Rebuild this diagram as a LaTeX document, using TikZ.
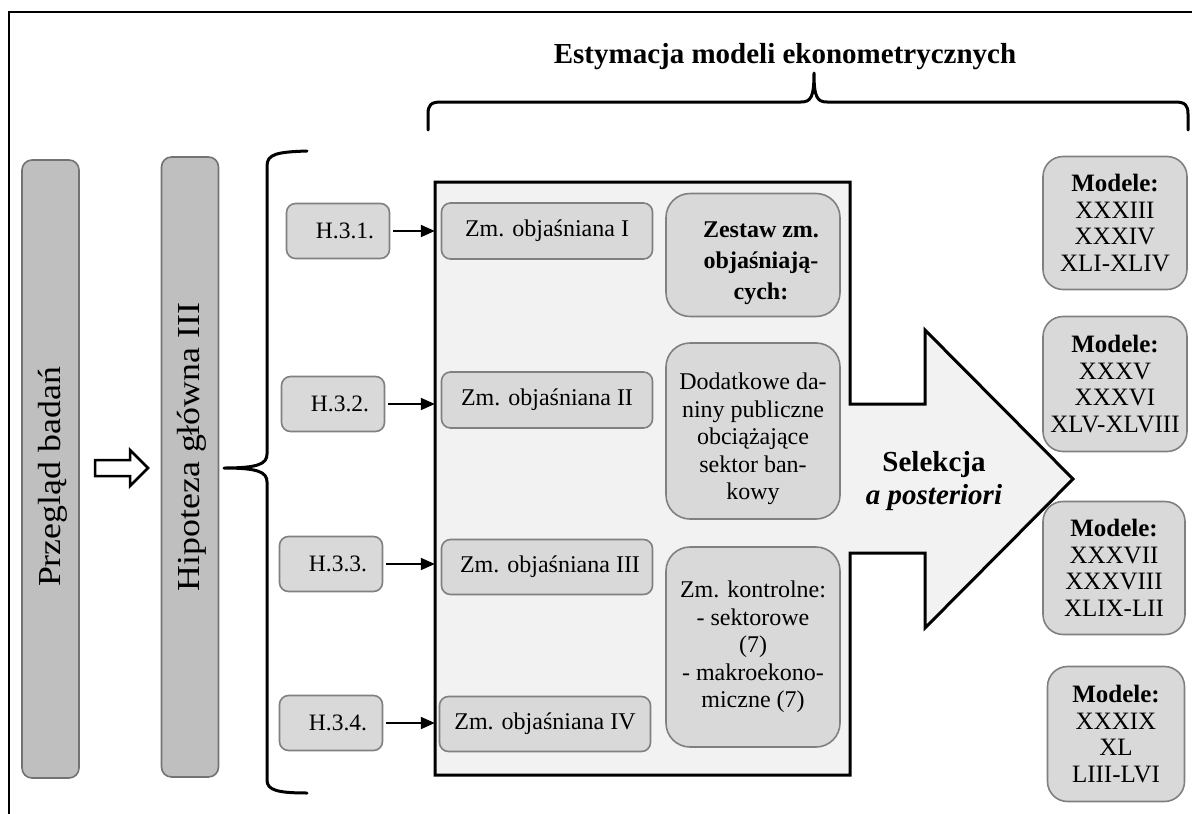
\documentclass[tikz,border=0pt]{standalone}
\usepackage{fontspec}
\setmainfont{Liberation Serif}
\usetikzlibrary{arrows.meta,calc}

\newcommand{\fs}[2]{\fontsize{#1}{#2}\selectfont}

\tikzset{
  bar/.style={draw=black!55, line width=1.6pt, fill=black!25, rounded corners=10pt,
              minimum width=57pt, inner sep=0pt},
  hbox/.style={draw=black!50, line width=1.6pt, fill=black!15, rounded corners=9pt,
               minimum width=103pt, minimum height=55pt, inner sep=0pt, font=\fs{23.5}{26}},
  zbox/.style={draw=black!50, line width=1.6pt, fill=black!15, rounded corners=9pt,
               minimum width=211pt, minimum height=56pt, inner sep=0pt, font=\fs{24}{26}},
  setbox/.style={draw=black!50, line width=1.6pt, fill=black!15, rounded corners=24pt,
                 minimum width=174pt, inner sep=0pt},
  settext/.style={align=center, inner sep=0pt},
  modelbox/.style={draw=black!50, line width=1.6pt, fill=black!15, rounded corners=20pt,
                   inner sep=0pt, align=center, font=\fs{25}{26.5}},
  bracket/.style={line width=3pt, line cap=round, line join=round},
  conn/.style={line width=2pt, -{Triangle[length=14pt,width=12pt]}, shorten <=3pt},
}

\begin{document}
\begin{tikzpicture}[x=1pt, y=-1pt]
\useasboundingbox (0,0) rectangle (1192,814);

% frame (left and top edges)
\draw[line width=2.5pt] (9,820) -- (9,12) -- (1200,12);

% title and top brace
\node (title) at (785,57) {\fs{29}{32}\bfseries Estymacja modeli ekonometrycznych};
\draw[bracket] (428,130) -- (428,114) .. controls (428,105) and (431,102) .. (441,102)
  -- (801,102) .. controls (811,102) and (814,97) .. (814,73)
  .. controls (814,97) and (817,102) .. (827,102)
  -- (1175,102) .. controls (1185,102) and (1188,105) .. (1188,114) -- (1188,130);

% left bars
\node[bar, minimum height=618pt] (przeglad) at (50.5,469) {};
\node[rotate=90] (przegladtxt) at (53,477) {\fs{32}{36}\scalebox{1.12}[1]{Przegląd badań}};
\node[bar, minimum height=620pt] (hipoteza) at (190,467) {};
\node[rotate=90] (hipotezatxt) at (192,447) {\fs{32}{36}\scalebox{1.12}[1]{Hipoteza główna III}};

% hollow arrow between bars
\draw[line width=2.5pt, fill=white, line join=miter]
  (95,460) -- (130,460) -- (130,450) -- (148,468) -- (130,486) -- (130,476) -- (95,476) -- cycle;

% brace after the main hypothesis
\draw[bracket] (307,151) .. controls (277,152) and (267,154) .. (267,166)
  -- (267,454) .. controls (267,464) and (258,468) .. (224,468)
  .. controls (258,468) and (267,472) .. (267,482)
  -- (267,780) .. controls (267,790) and (277,793) .. (307,793);

% panel with the selection arrow
\draw[line width=3pt, fill=black!5, line join=miter]
  (435,182) -- (850,182) -- (850,404) -- (925,404) -- (925,330) -- (1073,479)
  -- (925,628) -- (925,553) -- (850,553) -- (850,775) -- (435,775) -- cycle;
\node[minimum width=415pt, minimum height=593pt, inner sep=0pt] (panel) at (642.5,478.5) {};

\node[align=center, font=\fs{29}{33}\bfseries] (selekcja) at (934,481)
  {Selekcja\\\itshape a posteriori};

% hypotheses
\node[hbox] (h1) at (338,231) {\hspace*{14pt}H.3.1.};
\node[hbox] (h2) at (333,404) {\hspace*{14pt}H.3.2.};
\node[hbox] (h3) at (331,564) {\hspace*{14pt}H.3.3.};
\node[hbox] (h4) at (331,723) {\hspace*{14pt}H.3.4.};

% explained variables
\node[zbox] (z1) at (547,231) {Zm. objaśniana I};
\node[zbox] (z2) at (547,400) {Zm. objaśniana II};
\node[zbox, minimum height=55pt] (z3) at (547,567) {\hspace*{6pt}Zm. objaśniana III};
\node[zbox, minimum height=55pt] (z4) at (545,724) {Zm. objaśniana IV};

\draw[conn] (h1.east) -- (h1.east -| panel.west);
\draw[conn] (h2.east) -- (h2.east -| panel.west);
\draw[conn] (h3.east) -- (h3.east -| panel.west);
\draw[conn] (h4.east) -- (h4.east -| panel.west);

% sets of explanatory variables
\node[setbox, minimum height=123pt] (zestaw) at (753,255) {};
\node[settext, font=\fs{24}{31}\bfseries, xshift=8pt, yshift=-8pt] (zestawtxt) at (zestaw.center)
  {Zestaw zm.\\objaśniają-\\cych:};
\node[setbox, minimum height=176pt] (dodatkowe) at (753,431) {};
\node[settext, font=\fs{24}{27.5}, yshift=-8pt] (dodatkowetxt) at (dodatkowe.center)
  {Dodatkowe da-\\niny publiczne\\obciążające\\sektor ban-\\kowy};
\node[setbox, minimum height=200pt] (kontrolne) at (753,647) {};
\node[settext, font=\fs{24}{27.5}] (kontrolnetxt) at (kontrolne.center)
  {Zm. kontrolne:\\- sektorowe\\(7)\\- makroekono-\\miczne (7)};

% resulting models
\node[modelbox, minimum width=144pt, minimum height=133pt] (m1) at (1115,223)
  {\textbf{Modele:}\\XXXIII\\XXXIV\\XLI-XLIV};
\node[modelbox, minimum width=144pt, minimum height=135pt] (m2) at (1115,384)
  {\textbf{Modele:}\\XXXV\\XXXVI\\XLV-XLVIII};
\node[modelbox, minimum width=142pt, minimum height=133pt] (m3) at (1114,568)
  {\textbf{Modele:}\\XXXVII\\XXXVIII\\XLIX-LII};
\node[modelbox, minimum width=137pt, minimum height=135pt] (m4) at (1116,734)
  {\textbf{Modele:}\\XXXIX\\XL\\LIII-LVI};
\end{tikzpicture}
\end{document}
